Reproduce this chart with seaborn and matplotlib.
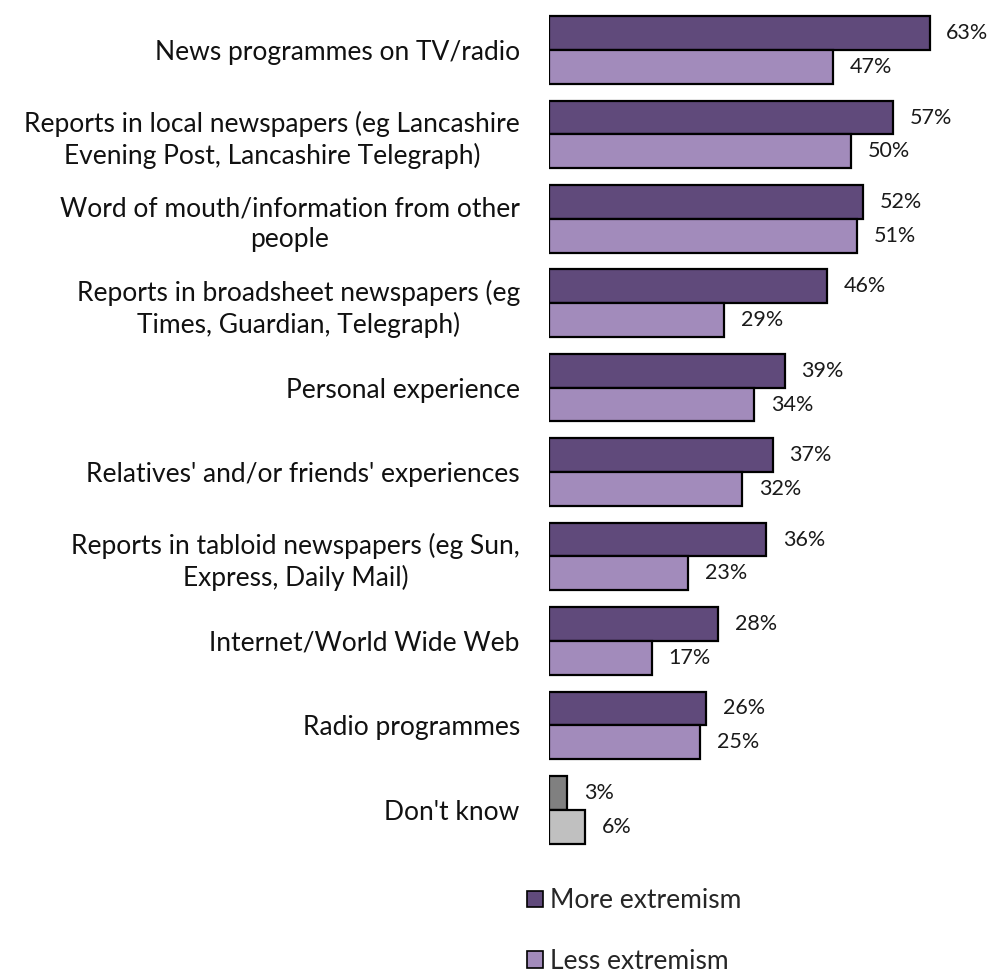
import matplotlib
matplotlib.use("Agg")
import matplotlib.pyplot as plt
import pandas as pd
import seaborn as sns
from matplotlib.patches import Patch

sources = [
    "News programmes on TV/radio",
    "Reports in local newspapers (eg Lancashire\nEvening Post, Lancashire Telegraph)",
    "Word of mouth/information from other\npeople",
    "Reports in broadsheet newspapers (eg\nTimes, Guardian, Telegraph)",
    "Personal experience",
    "Relatives' and/or friends' experiences",
    "Reports in tabloid newspapers (eg Sun,\nExpress, Daily Mail)",
    "Internet/World Wide Web",
    "Radio programmes",
    "Don't know",
]
more_extremism = [63, 57, 52, 46, 39, 37, 36, 28, 26, 3]
less_extremism = [47, 50, 51, 29, 34, 32, 23, 17, 25, 6]
series_names = ["More extremism", "Less extremism"]

df = pd.DataFrame({
    "source": sources * 2,
    "pct": more_extremism + less_extremism,
    "series": [series_names[0]] * len(sources) + [series_names[1]] * len(sources),
})

sns.set_theme(style="white")
plt.rcParams["font.family"] = ["Lato", "DejaVu Sans"]

dark_purple = "#604a7b"
light_purple = "#a28bbb"
palette = {series_names[0]: dark_purple, series_names[1]: light_purple}

fig = plt.figure(figsize=(9.94, 9.77), dpi=100)
ax = fig.add_axes([0.5523, 0.128, 0.4376, 0.864])

sns.barplot(data=df, y="source", x="pct", hue="series", palette=palette,
            order=sources, hue_order=series_names, orient="h",
            width=0.8, edgecolor="black", linewidth=1.6, saturation=1,
            legend=False, ax=ax)

# "Don't know" answers are shown in grey
ax.containers[0][len(sources) - 1].set_facecolor("#808080")
ax.containers[1][len(sources) - 1].set_facecolor("#c0c0c0")

for cont in ax.containers:
    ax.bar_label(cont, fmt="%g%%", padding=12, fontsize=15.5, color="#1a1a1a")

ax.set_xlim(0, 72)
ax.set_ylim(len(sources) - 0.5, -0.5)
ax.set_xlabel("")
ax.set_ylabel("")
ax.set_xticks([])
ax.set_yticks(range(len(sources)))
ax.set_yticklabels(sources, fontsize=19, color="#111111", multialignment="center",
                   linespacing=1.3)
ax.tick_params(axis="y", length=0, pad=21)
for s in ax.spines.values():
    s.set_visible(False)

handles = [Patch(facecolor=palette[n], edgecolor="black", linewidth=1.2, label=n)
           for n in series_names]
fig.legend(handles=handles, loc="upper left", bbox_to_anchor=(0.506, 0.115),
           frameon=False, fontsize=19, labelspacing=1.35,
           handlelength=0.6, handleheight=0.6, handletextpad=0.3)

fig.savefig("out.png", dpi=100, facecolor="white")
